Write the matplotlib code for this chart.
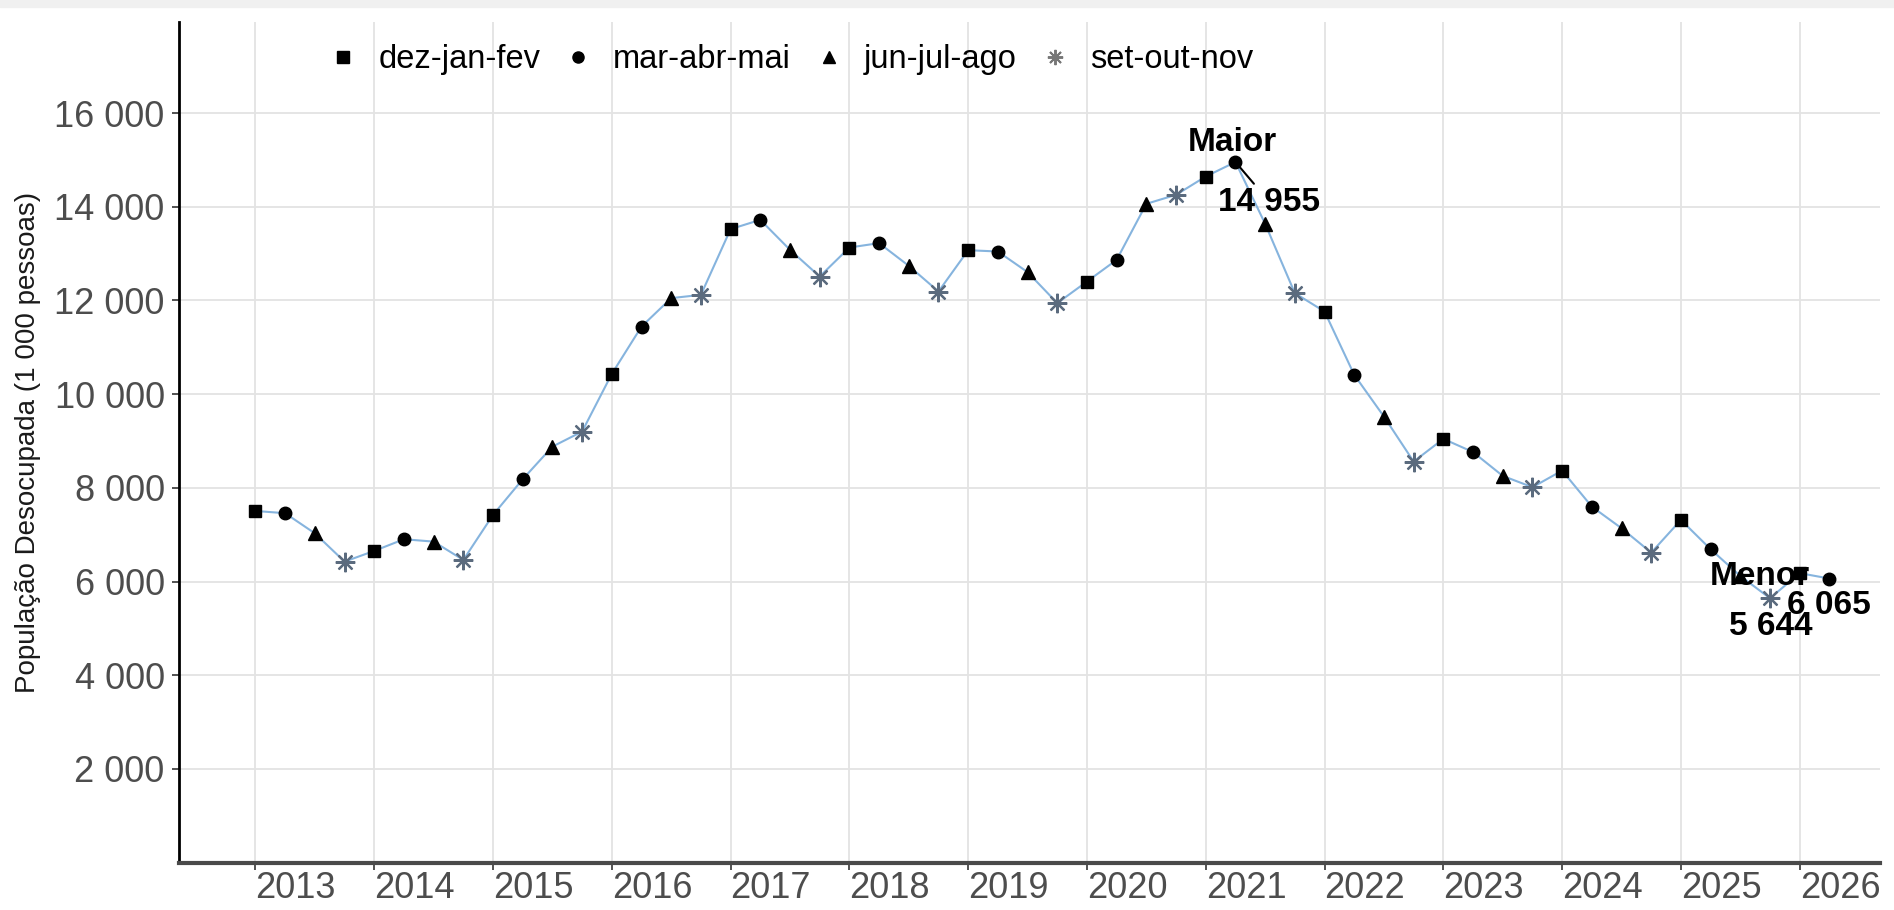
import numpy as np
import matplotlib.pyplot as plt
from matplotlib.lines import Line2D
from matplotlib.patches import Rectangle
from matplotlib.ticker import FuncFormatter

plt.rcParams['font.family'] = ['Liberation Sans', 'DejaVu Sans']

# Trimestres moveis (um ponto por trimestre, a partir de dez-jan-fev 2013)
trimestres = ["dez-jan-fev", "mar-abr-mai", "jun-jul-ago", "set-out-nov"]
ano_inicial = 2013
desocupados = [
    7508, 7459, 7030, 6426,      # 2013
    6655, 6904, 6853, 6462,      # 2014
    7423, 8185, 8881, 9202,      # 2015
    10433, 11443, 12050, 12120,  # 2016
    13523, 13721, 13081, 12511,  # 2017
    13130, 13224, 12739, 12191,  # 2018
    13073, 13045, 12605, 11943,  # 2019
    12404, 12867, 14063, 14255,  # 2020
    14646, 14955, 13636, 12156,  # 2021
    11764, 10412, 9522, 8561,    # 2022
    9046, 8764, 8256, 8014,      # 2023
    8369, 7600, 7139, 6618,      # 2024
    7316, 6691, 6120, 5644,      # 2025
    6180, 6065,                  # 2026
]
anos_ticks = list(range(2013, 2027))
y_ticks = list(range(2000, 16001, 2000))

y = np.array(desocupados, dtype=float)
x = ano_inicial + 0.25 * np.arange(len(y))
trim_idx = np.arange(len(y)) % 4

estilos = {
    "dez-jan-fev": dict(marker="s", color="black", ms=9),
    "mar-abr-mai": dict(marker="o", color="black", ms=9),
    "jun-jul-ago": dict(marker="^", color="black", ms=10),
    "set-out-nov": dict(marker=(8, 2, 0), color="#5b6b7e", ms=14),
}

fig = plt.figure(figsize=(18.94, 9.10), dpi=100)
fig.patches.append(Rectangle((0, 1 - 7 / 910), 1, 7 / 910, transform=fig.transFigure,
                             color="#f0f0f0", zorder=0))
ax = fig.add_axes([178.6 / 1894, 47.3 / 910, (1880 - 178.6) / 1894, 841 / 910])

ax.plot(x, y, color="#86b4de", lw=1.5, zorder=2)

handles = []
for k, nome in enumerate(trimestres):
    st = estilos[nome]
    sel = trim_idx == k
    if nome == "set-out-nov":
        ax.plot(x[sel], y[sel], ls="none", marker=st["marker"], ms=st["ms"],
                markeredgecolor=st["color"], markeredgewidth=1.6, zorder=3)
        handles.append(Line2D([], [], ls="none", marker=st["marker"], ms=11,
                              markeredgecolor="#777777", markeredgewidth=1.4, label=nome))
    else:
        ax.plot(x[sel], y[sel], ls="none", marker=st["marker"], ms=st["ms"],
                color=st["color"], zorder=3)
        handles.append(Line2D([], [], ls="none", marker=st["marker"], ms=st["ms"] - 1,
                              color=st["color"], label=nome))

# rotulos de maior, menor e ultimo valor
fmt = lambda v: f"{v:,.0f}".replace(",", " ")
i_max = int(np.argmax(y))
i_min = int(np.argmin(y))
i_last = len(y) - 1
txt = dict(textcoords="offset pixels", ha="center", va="center",
           fontweight="bold", fontsize=24, color="black", zorder=5)

ax.annotate("Maior", xy=(x[i_max], y[i_max]), xytext=(-3, 20), **txt)
ax.annotate(fmt(y[i_max]), xy=(x[i_max], y[i_max]), xytext=(34, -40),
            arrowprops=dict(arrowstyle="-", color="black", lw=1.5, shrinkA=0, shrinkB=3), **txt)
ax.annotate("Menor", xy=(x[i_min], y[i_min]), xytext=(-10, 22), **txt)
ax.annotate(fmt(y[i_min]), xy=(x[i_min], y[i_min]), xytext=(1, -28), **txt)
ax.annotate(fmt(y[i_last]), xy=(x[i_last], y[i_last]), xytext=(-1, -27), **txt)

ax.set_xlim(2012.353, 2026.676)
ax.set_ylim(0, 17950)
ax.set_xticks(anos_ticks)
ax.set_xticklabels([str(a) for a in anos_ticks], ha="left")
ax.set_yticks(y_ticks)
ax.yaxis.set_major_formatter(FuncFormatter(lambda v, p: fmt(v)))

ax.grid(True, color="#e3e3e3", lw=1.3, zorder=0)
ax.set_axisbelow(True)
ax.tick_params(axis="both", labelsize=26, labelcolor="#4d4d4d", color="#333333",
               length=5, width=1.2)
ax.tick_params(axis="x", pad=1)
ax.tick_params(axis="y", pad=5)

for s in ("top", "right"):
    ax.spines[s].set_visible(False)
ax.spines["left"].set_color("black")
ax.spines["left"].set_linewidth(2)
ax.spines["bottom"].set_color("#4a4a4a")
ax.spines["bottom"].set_linewidth(3)

ax.set_ylabel("População Desocupada (1 000 pessoas)", fontsize=20, color="#1a1a1a")
ax.yaxis.set_label_coords(-0.081, 0.5)

ax.legend(handles=handles, loc="center left", bbox_to_anchor=(0.0887, 0.9545),
          ncol=4, frameon=False, fontsize=23.5, handlelength=0.8, handletextpad=0.69,
          columnspacing=0.75, borderpad=0, borderaxespad=0)

fig.savefig("out.png", dpi=100)
